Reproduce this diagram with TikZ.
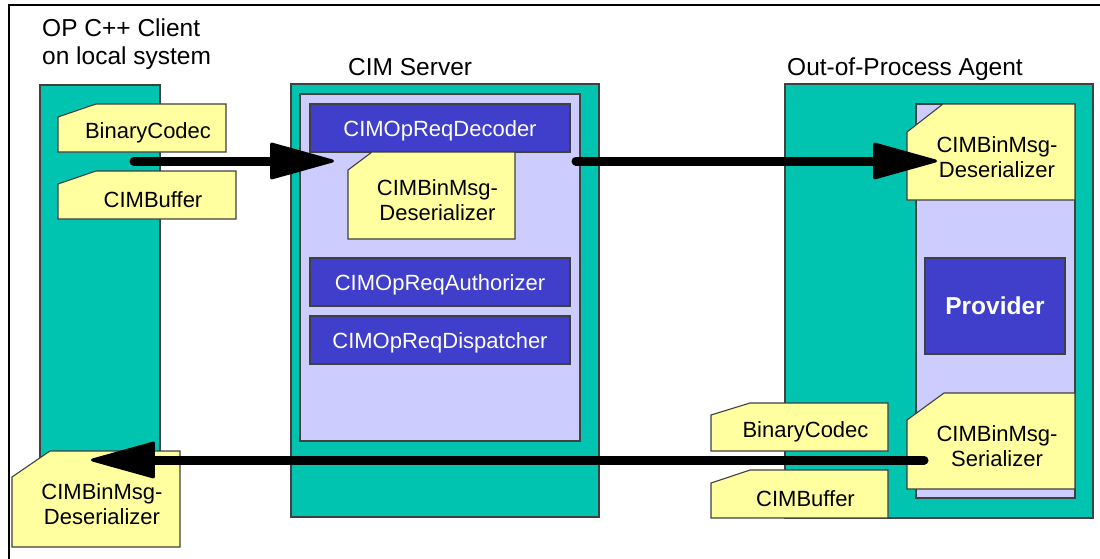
\documentclass[tikz,border=0pt]{standalone}
\usepackage{fontspec}
\setmainfont{Liberation Sans}
\usetikzlibrary{arrows.meta}
\definecolor{tealc}{HTML}{00C4B0}
\definecolor{lavc}{HTML}{CCCCFF}
\definecolor{bluec}{HTML}{3F3FCC}
\definecolor{yelc}{HTML}{FFFFA0}
\definecolor{edgec}{HTML}{404040}
\tikzset{
  boxedge/.style={draw=edgec, line width=1.1pt},
  tealbox/.style={boxedge, fill=tealc, inner sep=0pt},
  lavbox/.style={boxedge, fill=lavc, inner sep=0pt},
  bluebox/.style={boxedge, fill=bluec, inner sep=0pt, text=white,
    text height=16pt, text depth=0pt,
    font=\fontsize{22}{25}\selectfont},
  cutfill/.style={boxedge, fill=yelc},
  ytext/.style={inner sep=0pt, align=center, font=\fontsize{22}{25}\selectfont},
  title/.style={inner sep=0pt, align=left, font=\fontsize{24.5}{28}\selectfont},
  frameline/.style={draw=black, line width=1.2pt},
  flow/.style={line width=9pt, line cap=round,
    -{Triangle[length=68pt, width=37pt, line width=3pt, round]}},
}
% name, x1, y1, x2, y2, cut dx, cut dy, text
\newcommand\cutbox[8]{%
  \filldraw[cutfill] (#2,#5) -- (#2,#3+#7) -- (#2+#6,#3) -- (#4,#3) -- (#4,#5) -- cycle;
  \node[ytext] (#1) at ({(#2+#4)/2+6},{(#3+#5)/2+5}) {#8};
}
\begin{document}
\begin{tikzpicture}[x=1pt, y=-1pt]
\useasboundingbox (0,0) rectangle (1100,559);
% frame
\coordinate (fbl) at (9,559);
\coordinate (ftl) at (9,5);
\coordinate (ftr) at (1100,5);
\draw[frameline] (fbl) -- (ftl) -- (ftr);

% titles
\node[title, anchor=north west] (tclient) at (42,19) {OP C++ Client\\on local system};
\node[title, anchor=base west] (tserver) at (348,76) {CIM Server};
\node[title, anchor=base west] (tagent) at (787,76) {Out-of-Process Agent};

% client column
\node[tealbox, minimum width=120pt, minimum height=432pt] (client) at (100,301) {};
\cutbox{cbc}{58}{104}{226}{152}{38}{13}{BinaryCodec}
\cutbox{cbuf}{58}{171}{236}{219}{38}{13}{CIMBuffer}

% CIM server
\node[tealbox, minimum width=308pt, minimum height=433pt] (server) at (445,300.5) {};
\node[lavbox, minimum width=280pt, minimum height=347pt] (slav) at (440,267.5) {};
\node[bluebox, minimum width=260pt, minimum height=48pt] (dec) at (440,128) {CIMOpReqDecoder};
\cutbox{sdes}{348}{152}{515}{239}{24}{18}{CIMBinMsg-\\Deserializer}
\node[bluebox, minimum width=260pt, minimum height=48pt] (auth) at (440,282) {CIMOpReqAuthorizer};
\node[bluebox, minimum width=260pt, minimum height=48pt] (disp) at (440,340) {CIMOpReqDispatcher};

% agent
\node[tealbox, minimum width=308pt, minimum height=434pt] (agent) at (939,301) {};
\node[lavbox, minimum width=159pt, minimum height=394pt] (alav) at (995.5,301) {};
\cutbox{ades}{907}{104}{1075}{200}{36}{28}{CIMBinMsg-\\Deserializer}
\node[bluebox, minimum width=140pt, minimum height=96pt, text height=17.6pt,
  font=\fontsize{24.5}{28}\selectfont\bfseries] (prov) at (995,306) {Provider};
\cutbox{aser}{907}{393}{1075}{489}{37}{27}{CIMBinMsg-\\Serializer}
\cutbox{abc}{711}{403}{888}{451}{39}{12}{BinaryCodec}
\cutbox{abuf}{711}{470}{888}{518}{39}{13}{CIMBuffer}

% client deserializer
\cutbox{cdes}{12}{451}{180}{547}{38}{26}{CIMBinMsg-\\Deserializer}

% flows
\coordinate (a1s) at (134,161);
\coordinate (a1e) at (334,161);
\coordinate (a2s) at (576,161);
\coordinate (a2e) at (937,161);
\coordinate (a3s) at (924,460);
\coordinate (a3e) at (91,460);
\draw[flow] (a1s) -- (a1e);
\draw[flow] (a2s) -- (a2e);
\draw[flow] (a3s) -- (a3e);
\end{tikzpicture}
\end{document}
